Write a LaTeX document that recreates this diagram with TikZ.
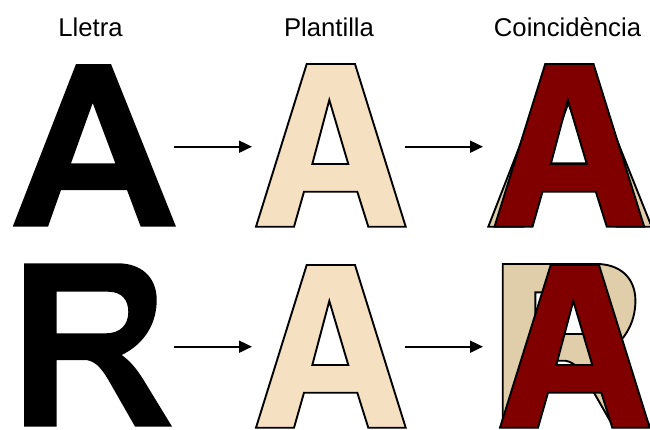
\documentclass[tikz,border=0pt]{standalone}
\usepackage{fontspec}
\setmainfont{Liberation Sans}
\usetikzlibrary{arrows.meta}
\definecolor{tanlight}{RGB}{245,224,194}
\definecolor{tandark}{RGB}{224,206,170}
\definecolor{maroonA}{RGB}{128,0,0}
\newcommand{\blackApath}{(12.7,226.7) -- (76,64) -- (111,64) -- (176,226.7) -- (140.7,226.7) -- (127,190) -- (61,190) -- (48,226.7) -- cycle (92.7,103) -- (71,163.3) -- (115.3,163.3) -- cycle}
\newcommand{\tmplApath}{(256,226.7) -- (306.7,64) -- (355,64) -- (405.7,226.7) -- (368.3,226.7) -- (357.3,191.7) -- (304,191.7) -- (294,226.7) -- cycle (329.3,100) -- (312.3,164) -- (348.3,164) -- cycle}
\newcommand{\blackRpath}{(24,263.3) -- (118,263.3) .. controls (140,263.3) and (156.7,276) .. (156.7,300) .. controls (156.7,322) and (146,343) .. (121.7,355) .. controls (130,361) and (136,368) .. (143,379) -- (172,426.5) -- (135,426.5) -- (113,388) .. controls (104,372) and (98,362) .. (86.7,360) -- (56.7,360) -- (56.7,426.5) -- (24,426.5) -- cycle (56.7,291.7) -- (108,291.7) .. controls (122,291.7) and (128.3,300) .. (128.3,312) .. controls (128.3,325) and (120,333.3) .. (106,333.3) -- (56.7,333.3) -- cycle}
\begin{document}
\begin{tikzpicture}[x=1pt,y=-1pt,
  lbl/.style={anchor=base,inner sep=0pt,font=\fontsize{25.7}{30}\selectfont},
  solidglyph/.style={fill=black,even odd rule},
  tmplglyph/.style={fill=tanlight,draw=black,line width=1.9pt,even odd rule,line join=miter},
  backglyph/.style={fill=tandark,draw=black,line width=1.9pt,even odd rule,line join=miter},
  matchglyph/.style={fill=maroonA,draw=black,line width=1.9pt,even odd rule,line join=miter},
  flowarrow/.style={line width=1.9pt,-{Triangle[length=13pt,width=12pt]}}]
\useasboundingbox (0,0) rectangle (650,429);
% labels
\node[lbl] (lletra) at (90.5,36.5) {Lletra};
\node[lbl] (plantilla) at (329,36.5) {Plantilla};
\node[lbl] (coinc) at (567.5,36.5) {Coincidència};
% row 1
\path[solidglyph] \blackApath;
\path[tmplglyph] \tmplApath;
\begin{scope}[shift={(475.6,0)}]
  \path[backglyph] \blackApath;
\end{scope}
\begin{scope}[shift={(238.5,0)}]
  \path[matchglyph] \tmplApath;
\end{scope}
% row 2
\path[solidglyph] \blackRpath;
\begin{scope}[shift={(0,201)}]
  \path[tmplglyph] \tmplApath;
\end{scope}
\begin{scope}[shift={(478.7,0.7)}]
  \path[backglyph] \blackRpath;
\end{scope}
\begin{scope}[shift={(244,201)}]
  \path[matchglyph] \tmplApath;
\end{scope}
% arrows
\coordinate (r1a) at (174,146.7);
\coordinate (r1b) at (252,146.7);
\coordinate (r1c) at (405,146.7);
\coordinate (r1d) at (483,146.7);
\coordinate (r2a) at (174,346.7);
\coordinate (r2b) at (252,346.7);
\coordinate (r2c) at (405,346.7);
\coordinate (r2d) at (483,346.7);
\draw[flowarrow] (r1a) -- (r1b);
\draw[flowarrow] (r1c) -- (r1d);
\draw[flowarrow] (r2a) -- (r2b);
\draw[flowarrow] (r2c) -- (r2d);
\end{tikzpicture}
\end{document}
